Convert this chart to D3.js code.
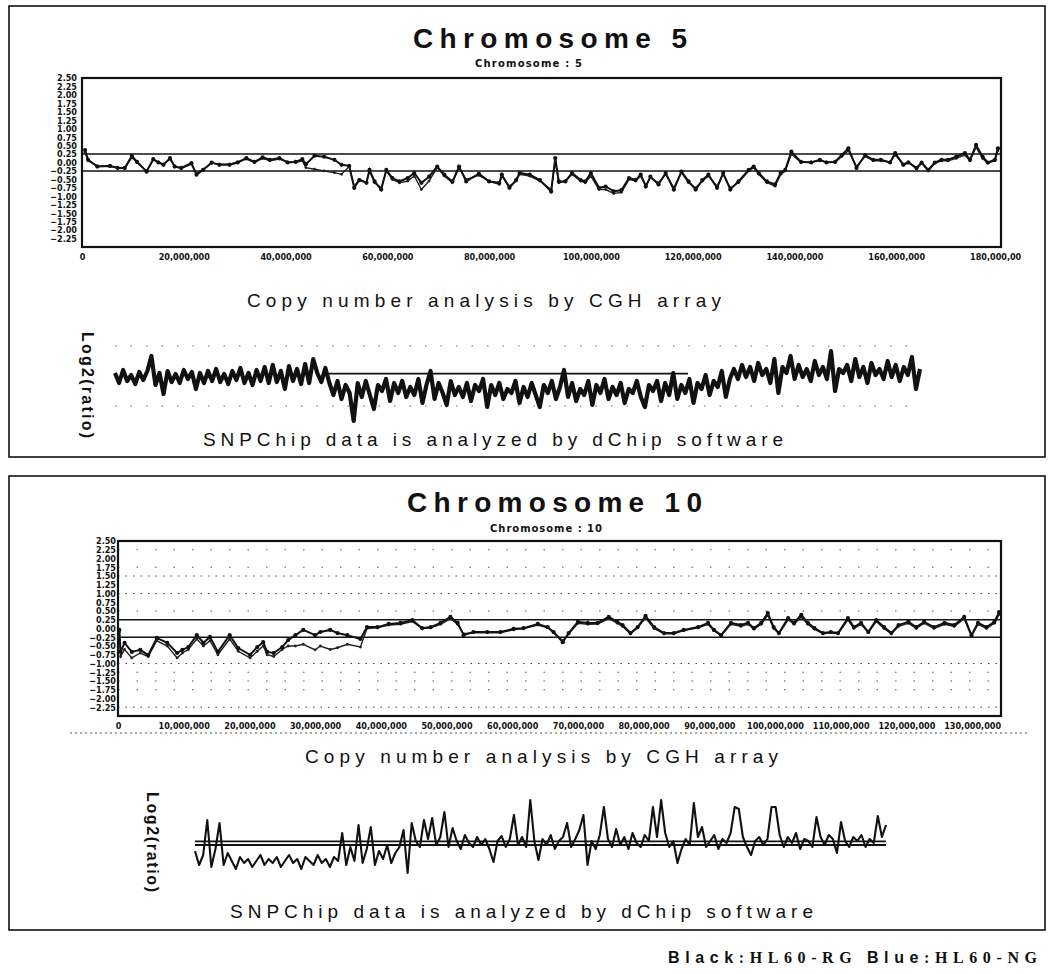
<!DOCTYPE html>
<html>
<head>
<meta charset="utf-8">
<script src="https://cdn.jsdelivr.net/npm/d3@7"></script>
<style>
body { margin: 0; background: #fff; }
text { fill: #111; }
</style>
</head>
<body>
<div id="content"></div>
<script>
// Chromosome 5 / 10 copy number figure
var w = 1048,
    h = 974;

var yTicks = [2.5, 2.25, 2, 1.75, 1.5, 1.25, 1, 0.75, 0.5, 0.25, 0, -0.25, -0.5, -0.75, -1, -1.25, -1.5, -1.75, -2, -2.25];
var thresholds = [0.25, -0.25];

// chromosome 5, CGH array (position in Mb, log2 ratio)
var chr5Ticks = [0, 20, 40, 60, 80, 100, 120, 140, 160, 180];
var chr5Pos = [0.6, 1.2, 3, 5.5, 7, 8.4, 9.8, 10.8, 12.7, 14,
    15, 16, 17.3, 18.2, 19.5, 21.5, 22.5, 23.8, 25.5, 27,
    29, 30.6, 32.3, 33.9, 35.5, 36.9, 38.8, 40.4, 42, 43.3,
    44, 45.7, 47.6, 49.6, 51, 52.5, 53.5, 54.5, 55.9, 56.5,
    57.5, 58.8, 59.8, 61, 62.4, 64, 65.3, 66.7, 68.2, 69.8,
    71.2, 72.8, 74.1, 75.5, 78, 80, 82, 82.5, 84, 85.3,
    86, 88, 90, 92.2, 93, 93.7, 95, 96.3, 98, 98.9,
    100, 101.6, 102.9, 104.5, 106, 107.5, 108.8, 109.8, 110.8, 111.7,
    113.3, 114.7, 116.3, 117.8, 119.2, 120.6, 121.9, 123.1, 124.8, 126,
    127.4, 129, 131, 132, 133, 134.6, 136.2, 137.3, 138.2, 139.4,
    141.3, 143.3, 145, 146.3, 148, 149.3, 150.6, 152.2, 153.9, 155.5,
    157, 158.8, 159.8, 161.4, 162.4, 164, 165, 166.3, 167.6, 168.9,
    170.2, 171.8, 173.5, 174.5, 175.7, 177, 178, 179.4, 180];
var chr5Black = [0.37, 0.08, -0.12, -0.1, -0.16, -0.16, 0.2, 0.02, -0.27, 0.1,
    0, -0.07, 0.13, -0.12, -0.16, -0.02, -0.36, -0.22, 0, -0.07,
    -0.07, 0, 0.13, 0.02, 0.15, 0.08, 0.13, 0, 0.02, 0.1,
    -0.05, 0.2, 0.17, 0.08, -0.07, -0.1, -0.75, -0.52, -0.6, -0.22,
    -0.56, -0.8, -0.22, -0.46, -0.56, -0.46, -0.31, -0.6, -0.42, -0.12,
    -0.36, -0.56, -0.12, -0.56, -0.33, -0.56, -0.6, -0.36, -0.75, -0.52,
    -0.31, -0.36, -0.52, -0.86, 0.13, -0.56, -0.56, -0.31, -0.52, -0.56,
    -0.31, -0.75, -0.71, -0.85, -0.82, -0.46, -0.52, -0.36, -0.71, -0.42,
    -0.65, -0.31, -0.8, -0.27, -0.56, -0.8, -0.52, -0.36, -0.75, -0.31,
    -0.8, -0.56, -0.22, -0.12, -0.31, -0.56, -0.65, -0.31, -0.22, 0.32,
    0.02, 0, 0.08, 0, 0.02, 0.22, 0.42, -0.16, 0.22, 0.08,
    0.08, 0, 0.28, -0.07, 0, -0.16, 0, -0.22, 0, 0.08,
    0.08, 0.17, 0.28, 0.08, 0.52, 0.17, 0, 0.08, 0.42];
var chr5Blue = [0.3, 0.05, -0.1, -0.12, -0.15, -0.18, 0.15, 0, -0.25, 0.08,
    0.02, -0.05, 0.1, -0.1, -0.18, -0.05, -0.32, -0.2, -0.02, -0.05,
    -0.05, 0.02, 0.1, 0, 0.12, 0.05, 0.1, 0.02, 0, 0.05,
    -0.15, -0.2, -0.25, -0.3, -0.35, -0.12, -0.7, -0.5, -0.58, -0.25,
    -0.6, -0.75, -0.25, -0.5, -0.6, -0.55, -0.4, -0.8, -0.55, -0.15,
    -0.4, -0.6, -0.15, -0.5, -0.38, -0.55, -0.65, -0.4, -0.7, -0.55,
    -0.35, -0.4, -0.55, -0.8, 0.05, -0.6, -0.55, -0.35, -0.55, -0.6,
    -0.4, -0.8, -0.8, -0.92, -0.88, -0.5, -0.55, -0.4, -0.68, -0.45,
    -0.6, -0.35, -0.75, -0.3, -0.6, -0.75, -0.55, -0.4, -0.7, -0.35,
    -0.75, -0.6, -0.25, -0.15, -0.35, -0.6, -0.7, -0.35, -0.25, 0.25,
    0, 0.02, 0.05, 0.02, 0, 0.18, 0.35, -0.12, 0.18, 0.05,
    0.05, 0.02, 0.22, -0.05, 0.02, -0.2, -0.02, -0.25, -0.02, 0.05,
    0.05, 0.12, 0.22, 0.05, 0.45, 0.12, -0.02, 0.05, 0.35];

// chromosome 10, CGH array
var chr10Ticks = [0, 10, 20, 30, 40, 50, 60, 70, 80, 90, 100, 110, 120, 130];
var chr10Pos = [0.2, 0.4, 1, 2.1, 3.4, 4.6, 5.9, 7.5, 9, 9.8,
    10.7, 12, 13, 14, 15.2, 17, 18.3, 20.1, 21.2, 22.1,
    22.7, 23.7, 25, 25.9, 27, 28.2, 30, 30.8, 32.3, 33.4,
    34.9, 36.9, 37.9, 39.5, 41.2, 43, 44.8, 46.3, 47.6, 49.1,
    50.6, 51.7, 52.6, 54.1, 56.2, 58.2, 60.2, 61.7, 63.9, 65.4,
    66.3, 67.7, 68.6, 70, 71.5, 73, 74.7, 76, 76.8, 78,
    79.1, 80.3, 81.6, 83.1, 84.6, 86.1, 88.3, 89.8, 90.7, 91.8,
    93.3, 94.8, 95.9, 96.8, 97.9, 98.9, 99.8, 100.6, 102, 102.9,
    104, 105, 106, 107.3, 108.5, 109.6, 111.1, 112, 113.1, 114.2,
    115.4, 116.6, 117.7, 118.8, 120.3, 121.5, 122.7, 124.2, 125.8, 127.3,
    128.8, 129.9, 130.9, 132.2, 133.4, 134.1];
var chr10Black = [-0.04, -0.67, -0.41, -0.67, -0.61, -0.76, -0.27, -0.41, -0.7, -0.61,
    -0.53, -0.19, -0.41, -0.24, -0.67, -0.19, -0.56, -0.75, -0.53, -0.39,
    -0.67, -0.7, -0.53, -0.33, -0.19, -0.04, -0.19, -0.1, -0.04, -0.13,
    -0.19, -0.3, 0.04, 0.04, 0.13, 0.16, 0.24, 0.01, 0.04, 0.16,
    0.33, 0.16, -0.19, -0.1, -0.1, -0.1, -0.01, 0.01, 0.13, 0.04,
    -0.1, -0.39, -0.13, 0.19, 0.16, 0.16, 0.33, 0.19, 0.1, -0.13,
    0.04, 0.36, 0.04, -0.13, -0.13, -0.04, 0.04, 0.16, -0.04, -0.19,
    0.16, 0.1, 0.16, 0.01, 0.16, 0.44, 0.04, -0.13, 0.3, 0.16,
    0.39, 0.16, 0.01, -0.13, -0.1, -0.13, 0.3, 0.04, 0.16, -0.1,
    0.24, 0.04, -0.13, 0.1, 0.19, 0.04, 0.19, 0.04, 0.16, 0.1,
    0.33, -0.19, 0.16, 0.04, 0.19, 0.47];
var chr10Blue = [-0.1, -0.8, -0.6, -0.84, -0.7, -0.8, -0.35, -0.5, -0.84, -0.7,
    -0.6, -0.3, -0.5, -0.35, -0.75, -0.3, -0.65, -0.84, -0.65, -0.5,
    -0.75, -0.8, -0.6, -0.5, -0.5, -0.45, -0.61, -0.5, -0.6, -0.55,
    -0.45, -0.53, 0, 0.02, 0.1, 0.12, 0.2, 0, 0.02, 0.12,
    0.28, 0.12, -0.15, -0.12, -0.12, -0.12, -0.04, 0, 0.1, 0.02,
    -0.12, -0.35, -0.15, 0.15, 0.12, 0.13, 0.28, 0.15, 0.06, -0.15,
    0.02, 0.3, 0, -0.15, -0.15, -0.06, 0.02, 0.12, -0.06, -0.2,
    0.12, 0.06, 0.12, -0.02, 0.12, 0.38, 0, -0.15, 0.25, 0.12,
    0.33, 0.12, -0.02, -0.15, -0.12, -0.15, 0.25, 0, 0.12, -0.12,
    0.2, 0, -0.15, 0.06, 0.15, 0, 0.15, 0, 0.12, 0.06,
    0.28, -0.22, 0.12, 0, 0.15, 0.4];
// dotted background rows in the chromosome 10 plot
var chr10Dense = [1.5, 1, -1, -2.25];
var chr10Sparse = [2.25, 1.75, 0.5, -1.25, -1.5, -1.75];

// SNPChip log2 ratio, probes in order along the chromosome
var snp5 = [0.2, -0.3, 0.35, -0.2, 0.1, -0.35, 0.25, -0.15, 0.3, 1.05, -0.4, 0.2, -0.85, 0.3, -0.25, 0.15, -0.3, 0.35, -0.1, 0.25,
    -0.6, 0.2, -0.3, 0.3, -0.2, 0.4, -0.25, 0.15, -0.35, 0.3, -0.15, 0.45, -0.3, 0.2, -0.4, 0.35, -0.2, 0.5, -0.3, 0.6,
    -0.25, 0.3, -0.6, 0.55, -0.2, 0.4, -0.35, 0.65, -0.3, 0.9, 0.2, -0.25, 0.45,
    -0.3, -0.9, -0.2, -1.1, -0.4, -0.8, -2.2, -0.3, -1.0, -0.2, -0.9, -1.6, -0.4, -0.7, -0.1, -1.2, -0.3, -0.8, -0.2, -1.0,
    -0.5, -0.9, -0.1, -1.3, -0.4, 0.3, -1.1, -0.3, -0.8, -1.4, -0.2, -0.9, -0.5, -1.0, -0.3, -1.2, -0.4, -0.7, -0.1, -1.5,
    -0.4, -0.9, -0.3, -1.1, -0.6, -0.8, -0.2, -1.3, -0.5, -1.0, -0.3, -0.9, -1.5, -0.4, -0.8, -0.2, -1.1, -0.5, 0.35, -1.0,
    -0.3, -1.2, -0.6, -0.9, -0.2, -1.4, -0.4, -0.8, -0.1, -1.1, -0.5, -0.9, -0.3, -1.3, -0.6, -0.8, -0.2, -1.0, -1.5, -0.4,
    -0.7, -0.2, -1.2, -0.3, -0.9, 0.2, -1.1, -0.4, -0.8, -0.1, -1.3, -0.3, -0.6, 0.1, -0.9, -0.2, -0.5, 0.3, -1.0, -0.1,
    0.4, -0.1, 0.6, 0.0, 0.5, -0.2, 0.7, 0.1, 0.4, -0.3, 0.9, -0.8, 0.5, 0.2, 1.05, -0.1, 0.6, 0.0, 0.4, -0.2,
    0.8, 0.1, 0.5, -0.1, 1.3, -0.7, 0.4, 0.2, 0.6, -0.2, 0.9, 0.0, 0.5, -0.3, 0.7, 0.1, 0.4, -0.1, 0.8, 0.0,
    0.6, -0.2, 0.5, 0.1, 1.0, -0.6, 0.4];
var snp10 = [-0.4, -1.1, -0.6, 1.15, -1.2, -0.3, 1.0, -1.1, -0.5, -0.9, -1.3, -0.7, -1.0, -0.8, -1.2, -0.9, -0.6, -1.1, -0.8, -1.0,
    -0.7, -1.2, -0.9, -0.6, -1.0, -0.8, -1.3, -0.7, -0.9, -1.1, -0.6, -1.0, -0.8, -1.2, -0.7, -0.9, 0.5, -1.1, -0.2, -0.9,
    0.9, -1.0, -0.3, 0.8, -1.1, -0.4, -0.8, -0.1, -1.0, -0.5, -0.2, 0.65, -1.5, 1.0, 0.1, -0.2, 1.15, 0.2, 1.25, -0.1,
    0.3, 1.55, -0.2, 0.75, 0.1, -0.3, 0.4, 0.0, -0.2, 0.3, -0.1, 0.2, -0.3, -0.95, 0.1, 0.35, -0.2, 0.2, 1.4, -0.1,
    0.3, -0.2, 2.15, 0.1, -0.85, 0.2, -0.1, 0.4, -0.3, 0.1, 0.3, 1.0, -0.2, 0.2, 0.65, 1.4, -1.1, 0.1, -0.3, 0.4,
    1.8, 0.2, -0.2, 0.7, -0.1, 0.3, -0.3, 0.5, 0.0, -0.2, 0.4, 0.1, 1.8, 0.3, 2.15, 0.5, -0.2, 0.1, -1.0, -0.3,
    0.2, -0.1, 2.0, 0.3, 0.8, -0.2, 0.1, 0.4, -0.3, 0.2, 0.0, 0.5, 1.8, 1.7, 0.3, -0.2, -0.6, 0.1, 0.3, -0.1,
    0.2, 1.8, 1.8, 0.4, -0.2, 0.3, 0.0, 0.5, -0.3, 0.2, 0.1, -0.2, 1.3, 0.3, -0.1, 0.4, 0.2, -0.5, 1.05, 0.1,
    -0.2, 0.3, 0.1, 0.4, -0.2, 0.2, 0.0, 1.35, 0.3, 0.9];

var svg = d3.select("#content")
    .append("svg")
    .attr("width", w)
    .attr("height", h);

var sans = "'Liberation Sans', Arial, sans-serif",
    narrow = "'Liberation Sans Narrow', 'DejaVu Sans Condensed', sans-serif";

// panel frames
[[9, 6, 1036, 451], [9, 476, 1036, 454]].forEach(function(r) {
    svg.append("rect")
        .attr("x", r[0]).attr("y", r[1])
        .attr("width", r[2]).attr("height", r[3])
        .attr("fill", "none").attr("stroke", "#111").attr("stroke-width", 1.6);
});

svg.append("defs").append("clipPath").attr("id", "cut")
    .append("rect").attr("x", 0).attr("y", 0).attr("width", 1021).attr("height", h);

function label(t, x, y, len, size, extra) {
    var el = svg.append("text")
        .attr("x", x).attr("y", y)
        .attr("font-family", sans)
        .attr("font-size", size)
        .attr("textLength", len)
        .attr("lengthAdjust", "spacing")
        .text(t);
    if (extra) extra(el);
    return el;
}

function bold(el) { el.attr("font-weight", "bold"); }

function vlabel(t, x, y, len) {
    svg.append("text")
        .attr("transform", "translate(" + x + "," + y + ") rotate(90)")
        .attr("font-family", sans)
        .attr("font-weight", "bold")
        .attr("font-size", 16)
        .attr("textLength", len)
        .attr("lengthAdjust", "spacing")
        .text(t);
}

function cgh(o) {
    var x = d3.scaleLinear().domain([0, o.xMax]).range([o.left, o.right]);
    var y = d3.scaleLinear().domain([-2.5, 2.5]).range([o.bottom, o.top]);
    var g = svg.append("g");

    (o.dense || []).forEach(function(v) {
        g.append("line").attr("x1", o.left).attr("x2", o.right)
            .attr("y1", y(v)).attr("y2", y(v))
            .attr("stroke", "#444").attr("stroke-width", 1).attr("stroke-dasharray", "1.5,6");
    });
    (o.sparse || []).forEach(function(v) {
        g.append("line").attr("x1", o.left).attr("x2", o.right)
            .attr("y1", y(v)).attr("y2", y(v))
            .attr("stroke", "#555").attr("stroke-width", 1).attr("stroke-dasharray", "1.5,17");
    });

    thresholds.forEach(function(v) {
        g.append("line").attr("x1", o.left).attr("x2", o.right)
            .attr("y1", y(v)).attr("y2", y(v))
            .attr("stroke", "#111").attr("stroke-width", 1.6);
    });

    var line = d3.line()
        .x(function(d) { return x(d[0]); })
        .y(function(d) { return y(d[1]); });

    var blue = o.pos.map(function(p, i) { return [p, o.blue[i]]; });
    var black = o.pos.map(function(p, i) { return [p, o.black[i]]; });

    g.append("path").attr("d", line(blue))
        .attr("fill", "none").attr("stroke", "#222").attr("stroke-width", 1.4);
    g.append("path").attr("d", line(black))
        .attr("fill", "none").attr("stroke", "#111").attr("stroke-width", 2);

    g.selectAll(".pb").data(blue).enter().append("circle")
        .attr("cx", function(d) { return x(d[0]); })
        .attr("cy", function(d) { return y(d[1]); })
        .attr("r", 1.4).attr("fill", "#222");
    g.selectAll(".pk").data(black).enter().append("circle")
        .attr("cx", function(d) { return x(d[0]); })
        .attr("cy", function(d) { return y(d[1]); })
        .attr("r", 2.1).attr("fill", "#111");

    g.append("rect")
        .attr("x", o.left).attr("y", o.top)
        .attr("width", o.right - o.left).attr("height", o.bottom - o.top)
        .attr("fill", "none").attr("stroke", "#111").attr("stroke-width", 2.2);

    var ya = g.append("g")
        .attr("transform", "translate(" + o.left + ",0)")
        .call(d3.axisLeft(y).tickValues(yTicks).tickFormat(d3.format(".2f")).tickSize(0).tickPadding(o.pad));
    var xa = g.append("g")
        .attr("transform", "translate(0," + o.bottom + ")")
        .attr("clip-path", "url(#cut)")
        .call(d3.axisBottom(x).tickValues(o.ticks)
            .tickFormat(function(d) { return d3.format(",")(d * 1e6); })
            .tickSize(0).tickPadding(o.xpad));
    [ya, xa].forEach(function(a) {
        a.select(".domain").remove();
        a.selectAll("text")
            .attr("font-family", narrow)
            .attr("font-weight", "bold")
            .attr("font-size", 9)
            .attr("fill", "#111");
    });
}

function snp(o) {
    var x = d3.scaleLinear().domain([0, o.values.length - 1]).range([o.left, o.right]);
    var y = d3.scaleLinear().domain([-1, 1]).range([o.zero + 20, o.zero - 20]);
    var g = svg.append("g");

    (o.dots || []).forEach(function(v) {
        g.append("line").attr("x1", o.left).attr("x2", o.right)
            .attr("y1", y(v)).attr("y2", y(v))
            .attr("stroke", "#666").attr("stroke-width", 1).attr("stroke-dasharray", "1.5,14");
    });
    o.refs.forEach(function(r) {
        g.append("line").attr("x1", r[1]).attr("x2", r[2])
            .attr("y1", y(r[0])).attr("y2", y(r[0]))
            .attr("stroke", "#111").attr("stroke-width", 1.8);
    });

    g.append("path")
        .attr("d", d3.line()
            .x(function(d, i) { return x(i); })
            .y(function(d) { return y(d); })(o.values))
        .attr("fill", "none")
        .attr("stroke", "#111")
        .attr("stroke-width", o.width)
        .attr("stroke-linejoin", "round");
}

// ---- chromosome 5 panel
label("Chromosome 5", 413, 48, 274, 28, bold);
label("Chromosome : 5", 475, 67, 107, 10, function(el) {
    el.attr("font-weight", "bold").attr("font-family", "'DejaVu Sans', sans-serif");
});
cgh({ left: 82, right: 1001, top: 78, bottom: 247, xMax: 180.6, pad: 5, xpad: 7,
      pos: chr5Pos, black: chr5Black, blue: chr5Blue, ticks: chr5Ticks });
label("Copy number analysis by CGH array", 247, 307, 474, 19);
vlabel("Log2(ratio)", 82, 332, 106);
snp({ left: 115, right: 920, zero: 377, values: snp5, width: 4.2,
      dots: [1.55, -1.45], refs: [[0.17, 327, 688]] });
label("SNPChip data is analyzed by dChip software", 203, 446, 580, 19);

// ---- chromosome 10 panel
label("Chromosome 10", 407, 512, 295, 28, bold);
label("Chromosome : 10", 490, 532, 112, 10, function(el) {
    el.attr("font-weight", "bold").attr("font-family", "'DejaVu Sans', sans-serif");
});
cgh({ left: 118, right: 1001, top: 541, bottom: 716, xMax: 134.4, pad: 2, xpad: 7,
      pos: chr10Pos, black: chr10Black, blue: chr10Blue, ticks: chr10Ticks,
      dense: chr10Dense, sparse: chr10Sparse });
svg.append("line").attr("x1", 70).attr("x2", 1030).attr("y1", 733).attr("y2", 733)
    .attr("stroke", "#555").attr("stroke-width", 1).attr("stroke-dasharray", "2,3");
label("Copy number analysis by CGH array", 305, 763, 473, 19);
vlabel("Log2(ratio)", 147, 792, 100);
snp({ left: 195, right: 886, zero: 843, values: snp10, width: 2.1,
      refs: [[0.08, 195, 886], [-0.1, 195, 886]] });
label("SNPChip data is analyzed by dChip software", 230, 918, 583, 19);

// legend
var lg = svg.append("text")
    .attr("x", 668).attr("y", 963)
    .attr("font-size", 16).attr("font-weight", "bold")
    .attr("textLength", 369).attr("lengthAdjust", "spacing");
lg.append("tspan").attr("font-family", sans).text("Black");
lg.append("tspan").attr("font-family", "'Liberation Serif', serif").text(":HL60-RG  ");
lg.append("tspan").attr("font-family", sans).text("Blue");
lg.append("tspan").attr("font-family", "'Liberation Serif', serif").text(":HL60-NG");
</script>
</body>
</html>
